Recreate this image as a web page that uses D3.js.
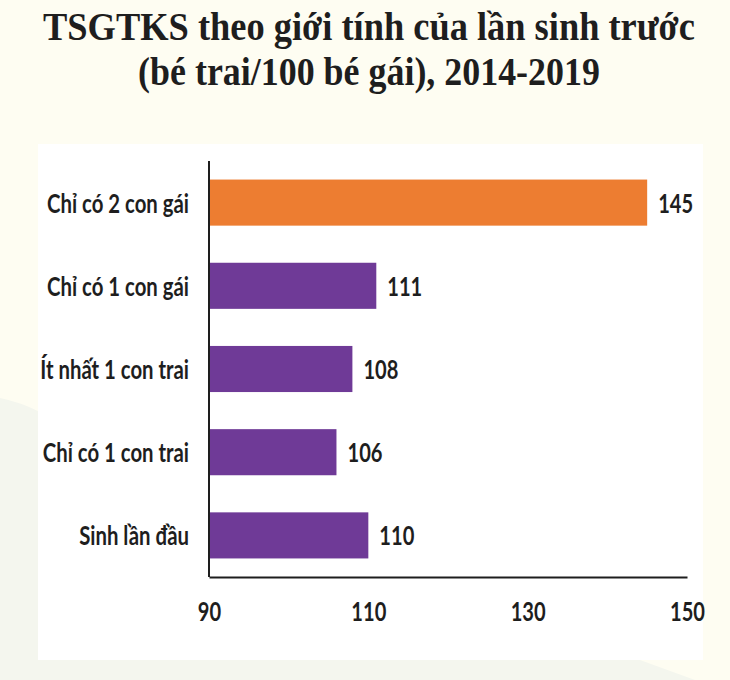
<!DOCTYPE html>
<html>
<head>
<meta charset="utf-8">
<script src="https://cdn.jsdelivr.net/npm/d3@7"></script>
<style>
  html, body { margin: 0; padding: 0; background: #fefdf2; }
  svg { display: block; }
</style>
</head>
<body>
<svg id="chart" width="730" height="680"></svg>
<script>
// Data
const categories = ['Chỉ có 2 con gái', 'Chỉ có 1 con gái', 'Ít nhất 1 con trai', 'Chỉ có 1 con trai', 'Sinh lần đầu'];
const values = [145, 111, 108, 106, 110];
const tickValues = [90, 110, 130, 150];
const titleLines = ['TSGTKS theo giới tính của lần sinh trước', '(bé trai/100 bé gái), 2014-2019'];

/**
 * Visual configs.
 */
const W = 730, H = 680;
const plot = { left: 209, right: 687, top: 161, bottom: 577 };
const orange = '#ed7d31', purple = '#6f3a97', ink = '#1e1e1e';
const labelFont = 'Lato, "Open Sans", sans-serif';
const labelSize = 27;

const svg = d3.select('#chart');

// Background: cream with a faint green wedge at the bottom left
svg.append('rect').attr('width', W).attr('height', H).attr('fill', '#fefdf2');
svg.append('path')
    .attr('d', 'M0,398 Q20,402 40,412 L640,660 L695,680 L0,680 Z')
    .attr('fill', '#f4f6ee');

// White panel
svg.append('rect')
    .attr('x', 38).attr('y', 144)
    .attr('width', 665).attr('height', 516)
    .attr('fill', '#ffffff');

/**
 * Squeezes a text horizontally so it fits the width seen in the picture.
 */
function squeeze(selection, x, y, targetWidth) {
    const natural = selection.node().getComputedTextLength();
    const k = targetWidth / natural;
    selection.attr('transform', 'translate(' + x + ',' + y + ') scale(' + k + ',1)');
}

// Title
const title = svg.append('g').attr('class', 'title');
titleLines.forEach((line, i) => {
    title.append('text')
        .attr('text-anchor', 'middle')
        .attr('font-family', '"Liberation Serif", "Times New Roman", serif')
        .attr('font-weight', 'bold')
        .attr('font-size', 41)
        .attr('fill', ink)
        .text(line)
        .call(squeeze, 369, i === 0 ? 40 : 85, i === 0 ? 652 : 462);
});

/**
 * Scales.
 */
const x = d3.scaleLinear().domain([90, 150]).range([plot.left, plot.right]);
const y = d3.scaleBand().domain(categories)
    .range([plot.top, plot.bottom])
    .paddingInner(0.446).paddingOuter(0.223);

// Squeeze factors for the condensed sans text
const probe = svg.append('text')
    .attr('font-family', labelFont).attr('font-size', labelSize).attr('font-weight', 'bold')
    .text(categories[0]);
const kLabel = 142 / probe.node().getComputedTextLength();
probe.remove();

const probeNum = svg.append('text')
    .attr('font-family', labelFont).attr('font-size', labelSize).attr('font-weight', 'bold')
    .text('145');
const kNum = 35 / probeNum.node().getComputedTextLength();
probeNum.remove();

// Bars
svg.append('g').attr('class', 'bars')
    .selectAll('rect').data(categories)
    .enter().append('rect')
        .attr('x', x(90))
        .attr('y', d => y(d))
        .attr('width', (d, i) => x(values[i]) - x(90))
        .attr('height', y.bandwidth())
        .attr('fill', (d, i) => i === 0 ? orange : purple);

// Value labels
svg.append('g').attr('class', 'values')
    .selectAll('text').data(categories)
    .enter().append('text')
        .attr('font-family', labelFont)
        .attr('font-size', labelSize)
        .attr('font-weight', 'bold')
        .attr('fill', ink)
        .attr('transform', (d, i) => 'translate(' + (x(values[i]) + 11) + ',' + (y(d) + y.bandwidth() / 2 + 10) + ') scale(' + kNum + ',1)')
        .text((d, i) => values[i]);

// Category labels
svg.append('g').attr('class', 'categories')
    .selectAll('text').data(categories)
    .enter().append('text')
        .attr('text-anchor', 'end')
        .attr('font-family', labelFont)
        .attr('font-size', labelSize)
        .attr('font-weight', 'bold')
        .attr('fill', ink)
        .attr('transform', d => 'translate(189,' + (y(d) + y.bandwidth() / 2 + 10) + ') scale(' + kLabel + ',1)')
        .text(String);

// Axes
const xAxis = d3.axisBottom(x).tickValues(tickValues).tickSize(0).tickPadding(0);
const xAxisContainer = svg.append('g')
    .attr('class', 'x-axis')
    .attr('transform', 'translate(0,' + plot.bottom + ')')
    .call(xAxis);
xAxisContainer.select('.domain')
    .attr('stroke', ink).attr('stroke-width', 2);
xAxisContainer.selectAll('.tick text')
    .attr('y', 0).attr('dy', 0)
    .attr('font-family', labelFont)
    .attr('font-size', labelSize)
    .attr('font-weight', 'bold')
    .attr('fill', ink)
    .attr('transform', 'translate(0,44) scale(' + kNum + ',1)');

svg.append('line')
    .attr('x1', plot.left).attr('x2', plot.left)
    .attr('y1', plot.top).attr('y2', plot.bottom)
    .attr('stroke', ink).attr('stroke-width', 2);
</script>
</body>
</html>
